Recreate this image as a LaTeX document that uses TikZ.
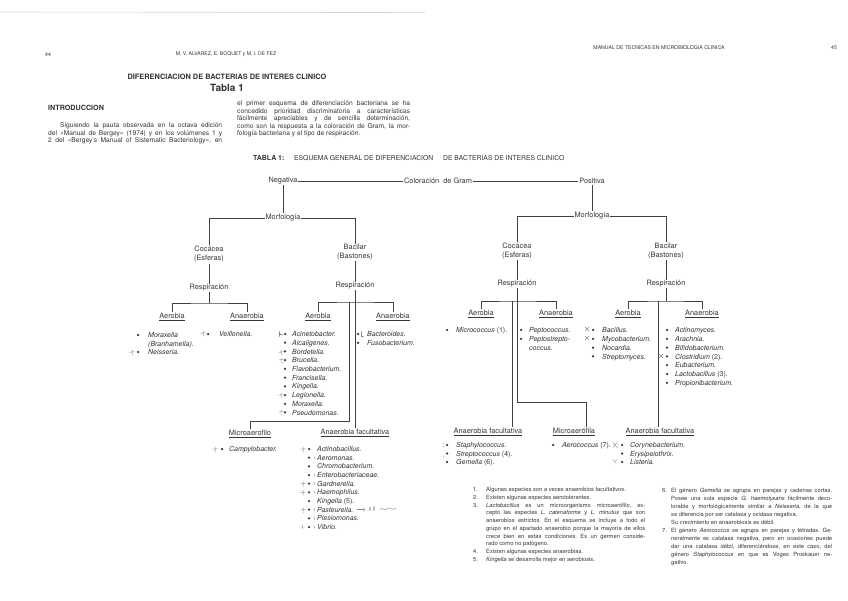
\documentclass[tikz,border=0pt]{standalone}
\usepackage{fontspec}
\setmainfont{TeX Gyre Heros}
\usetikzlibrary{calc}
\definecolor{ink}{HTML}{353535}
\definecolor{lin}{HTML}{404040}
\definecolor{pen}{HTML}{8C8C8C}
\definecolor{scan}{HTML}{D2D2D2}
\frenchspacing
\newcommand\fs[2]{\fontsize{#1}{#2}\selectfont}
\tikzset{
  every node/.style={text=ink, inner sep=0.8bp},
  lab/.style={font=\fs{7.4}{9}},
  itm/.style={font=\fs{7}{8}\itshape, anchor=mid west, inner sep=0},
  note/.style={font=\fs{5.8}{7}, anchor=mid west, inner sep=0},
  para/.style={font=\fs{6.7}{8}, anchor=mid west, inner sep=0},
  conn/.style={draw=lin, line width=0.7bp},
  pencil/.style={draw=pen, line width=0.45bp, line cap=round},
}
\newcommand\blist[6]{%
  \foreach \itx [count=\i from 0] in {#6}{%
    \fill[ink] (#2,{#4+\i*#5}) circle (1.25bp);
    \node[itm] (#1\i) at (#3,{#4+\i*#5}) {\itx};
  }}
\newcommand\jline[6]{\node[#1] (#2) at (#3,#4) {\makebox[#5][s]{#6}};}
\newcommand\pplus[2]{\draw[pencil,shift={(#1,#2)}] (-2.5,0.3) -- (2.3,-0.3) (0,-2.5) -- (0.3,2.8);}
\newcommand\px[2]{\draw[pencil,shift={(#1,#2)}] (-2,-2) -- (2,2) (2,-2) -- (-2,2);}
\newcommand\ptick[2]{\draw[pencil,shift={(#1,#2)}] (0,-1.5) -- (0.6,1.2);}
\begin{document}
\begin{tikzpicture}[x=1bp,y=-1bp]
\fill[white] (0,0) rectangle (848,601);
\useasboundingbox (0,0) rectangle (848,601);
\draw[scan, line width=0.6bp] (0,12) -- (425,12.6);

% headers
\node[font=\fs{5.2}{6}] (p44) at (48,55) {44};
\node[font=\fs{5.1}{6}] (auth) at (226,54) {M. V. ALVAREZ, E. BOQUET y M. I. DE FEZ};
\node[font=\fs{5.2}{6}] (man) at (659,48) {MANUAL DE TECNICAS EN MICROBIOLOGIA CLINICA};
\node[font=\fs{5.2}{6}] (p45) at (834,48) {45};

% title
\node[font=\fs{7.4}{9}\bfseries] (tit) at (227,77) {DIFERENCIACION DE BACTERIAS DE INTERES CLINICO};
\node[font=\fs{10}{12}\bfseries] (tab) at (227,87.5) {Tabla 1};
\node[font=\fs{7.2}{9}\bfseries, anchor=mid west, inner sep=0] (intro) at (48,108) {INTRODUCCION};

% intro paragraphs
\jline{para}{pa1}{60}{125}{162bp}{Siguiendo la pauta observada en la octava edición}
\jline{para}{pa2}{48}{132.5}{174bp}{del «Manual de Bergey» (1974) y en los volúmenes 1 y}
\jline{para}{pa3}{48}{140}{174bp}{2 del «Bergey's Manual of Sistematic Bacteriology», en}
\jline{para}{pb1}{237}{103}{173bp}{el primer esquema de diferenciación bacteriana se ha}
\jline{para}{pb2}{237}{110.5}{173bp}{concedido prioridad discriminatoria a características}
\jline{para}{pb3}{237}{118}{173bp}{fácilmente apreciables y de sencilla determinación,}
\jline{para}{pb4}{237}{125.5}{173bp}{como son la respuesta a la coloración de Gram, la mor-}
\node[para] (pb5) at (237,133) {fología bacteriana y el tipo de respiración.};

% table heading
\node[font=\fs{7}{8}\bfseries, anchor=mid west, inner sep=0] (tb1) at (253,158) {TABLA 1:};
\node[font=\fs{6.8}{8}, anchor=mid west, inner sep=0] (tb2) at (294,158) {ESQUEMA GENERAL DE DIFERENCIACION};
\node[font=\fs{6.8}{8}, anchor=mid west, inner sep=0] (tb3) at (443,158) {DE BACTERIAS DE INTERES CLINICO};

% top level
\node[lab] (neg) at (283,181) {Negativa};
\node[lab] (gram) at (438,181) {Coloración\hspace{4bp}de Gram};
\node[lab] (pos) at (592,181) {Positiva};
\draw[conn] (neg) -- (gram);
\draw[conn] (gram) -- (pos);

% left (negativa) tree
\node[lab] (morfL) at (283,218) {Morfología};
\node[lab, align=center] (cocL) at (209,254.5) {Cocácea\\(Esferas)};
\node[lab, align=center] (bacL) at (355,252.5) {Bacilar\\(Bastones)};
\node[lab] (respL) at (209,288) {Respiración};
\node[lab] (respBL) at (355,286) {Respiración};
\draw[conn] (neg) -- (morfL);
\draw[conn] (cocL) |- (morfL);
\draw[conn] (morfL) -| (bacL);
\draw[conn] (cocL) -- (respL);
\draw[conn] (bacL) -- (respBL);

\node[lab] (aerL1) at (172,317) {\underline{Aerobia}};
\node[lab] (anaL1) at (247,317) {\underline{Anaerobia}};
\coordinate (jL1) at (209,303);
\draw[conn] (respL) -- (jL1);
\draw[conn] (aerL1) |- (jL1) -| (anaL1);

\node[lab] (aerL2) at (318,317) {\underline{Aerobia}};
\node[lab] (anaL2) at (393,317) {\underline{Anaerobia}};
\node[lab] (microL) at (250,434) {\underline{Microaerofilo}};
\node[lab] (anafacL) at (355,433) {\underline{Anaerobia facultativa}};
\coordinate (jL2) at (355,302);
\draw[conn] (respBL) -- (anafacL);
\draw[conn] (aerL2) |- (jL2) -| (anaL2);
\coordinate (kL) at (349,302);
\coordinate (kL2) at (349,421);
\draw[conn] (kL) -- (kL2) -| (microL);

% right (positiva) tree
\node[lab] (morfR) at (592,216) {Morfología};
\node[lab, align=center] (cocR) at (517,251) {Cocácea\\(Esferas)};
\node[lab, align=center] (bacR) at (666,251) {Bacilar\\(Bastones)};
\node[lab] (respCR) at (517,284) {Respiración};
\node[lab] (respBR) at (666,284) {Respiración};
\draw[conn] (pos) -- (morfR);
\draw[conn] (cocR) |- (morfR);
\draw[conn] (morfR) -| (bacR);
\draw[conn] (cocR) -- (respCR);
\draw[conn] (bacR) -- (respBR);

\node[lab] (aerR1) at (481,314) {\underline{Aerobia}};
\node[lab] (anaR1) at (556,314) {\underline{Anaerobia}};
\node[lab] (aerR2) at (628,314) {\underline{Aerobia}};
\node[lab] (anaR2) at (702,314) {\underline{Anaerobia}};
\node[lab] (anafacR1) at (488,432) {\underline{Anaerobia facultativa}};
\node[lab] (microR) at (574,432) {\underline{Microaerófila}};
\node[lab] (anafacR2) at (660,432) {\underline{Anaerobia facultativa}};

\coordinate (jR1) at (517,301);
\draw[conn] (respCR) -- (jR1);
\draw[conn] (aerR1) |- (jR1) -| (anaR1);
\coordinate (m1) at (512,301);
\draw[conn] (m1) -- (m1 |- anafacR1.north);
\coordinate (m2) at (517,402);
\coordinate (m3) at (586,402);
\draw[conn] (jR1) -- (m2) -- (m3) -- (m3 |- microR.north);

\coordinate (jR2) at (666,301);
\draw[conn] (respBR) -- (jR2);
\draw[conn] (aerR2) |- (jR2) -| (anaR2);
\coordinate (n1) at (658,301);
\draw[conn] (n1) -- (n1 |- anafacR2.north);

% lists, left
\blist{lca}{138}{148}{335}{17}{Moraxella,Neisseria.}
\node[itm] (lcab) at (148,343.5) {(Branhamella).};
\blist{lcn}{208}{219}{334}{8.7}{Veillonella.}
\blist{lba}{285}{292}{334}{8.72}{Acinetobacter.,Alcaligenes.,Bordetella.,Brucella.,Flavobacterium.,Francisella.,Kingella.,Legionella.,Moraxella.,Pseudomonas.}
\blist{lbn}{358}{367}{334}{8.8}{Bacteroides.,Fusobacterium.}
\blist{lmi}{222}{229}{449}{8.7}{Campylobacter.}
\blist{lfa}{309}{317}{449}{8.67}{Actinobacillus.,Aeromonas.,Chromobacterium.,Enterobacteriaceae.,Gardnerella.,Haemophilus.,{Kingella \upshape(5).},Pasteurella.,Plesiomonas.,Vibrio.}

% lists, right
\blist{rca}{447}{456}{330}{8.8}{{Micrococcus \upshape(1).}}
\blist{rcn}{521}{529}{330}{8.8}{Peptococcus.,Peptostrepto-}
\node[itm] (rcnb) at (529,347.6) {coccus.};
\blist{rba}{593}{602}{330}{8.8}{Bacillus.,Mycobacterium.,Nocardia.,Streptomyces.}
\blist{rbn}{667}{675}{330}{8.8}{Actinomyces.,Arachnia.,Bifidobacterium.,{Clostridium \upshape(2).},Eubacterium.,{Lactobacillus \upshape(3).},Propionibacterium.}
\blist{rfa}{447}{456}{445}{8.5}{Staphylococcus.,{Streptococcus \upshape(4).},{Gemella \upshape(6).}}
\blist{rmi}{553}{562}{445}{8.5}{{Aerococcus \upshape(7).}}
\blist{rfb}{622}{630}{445}{8.5}{Corynebacterium.,Erysipelothrix.,Listeria.}

% pencil marks
\pplus{132}{352}
\pplus{203}{333}
\draw[pencil] (279,331.5) -- (279,336.5) (279,334) -- (282.5,334);
\pplus{281}{352}
\draw[pencil] (281,357) -- (281,362.5) -- (284,362.5) (279,360) -- (283,359.5);
\pplus{281}{395}
\draw[pencil] (281,409.5) -- (281,415) -- (284,415) (279,412) -- (283,411.5);
\draw[pencil] (361,331.5) -- (361,336) -- (363.5,336);
\pplus{215}{449}
\pplus{303}{449}
\pplus{303}{483.7}
\pplus{303}{492.3}
\pplus{303}{509.7}
\draw[pencil] (300,527) -- (305,527) (303,525) -- (302,529);
\ptick{314}{457.7}
\ptick{314}{475}
\ptick{314}{483.7}
\ptick{314}{492.3}
\ptick{314}{509.7}
\ptick{314}{518.4}
\ptick{314}{527}
\draw[pencil,->] (357,509.7) -- (365,509.7);
\draw[pencil] (369,510.7) -- (370,506.7) -- (371,510.7) (373,510.7) -- (374,506.2) -- (375,510.7)
  (380,509.7) .. controls (382,505.7) and (385,512.7) .. (387,508.7) .. controls (389,505.7) and (392,511.7) .. (396,508.2);
\px{587}{329}
\px{587}{338}
\px{661}{356}
\draw[pencil] (443,443.5) -- (443,444) (443,446.5) -- (443,447);
\draw[pencil] (443,456) -- (443,456.5);
\draw[pencil] (613,442.5) -- (617,447.5) (617,442.5) -- (613,447.5) (618,443) -- (618,448);
\draw[pencil] (613,459.5) -- (615,462) -- (617,459.5) (615,462) -- (615,464.5);

% notes, left column
\node[note] (nn1) at (473,489) {1.};
\node[note] (nt1) at (486,489) {Algunas especies son a veces anaerobios facultativos.};
\node[note] (nn2) at (473,497) {2.};
\node[note] (nt2) at (486,497) {Existen algunas especies aerotolerantes.};
\node[note] (nn3) at (473,504.5) {3.};
\jline{note}{nt3a}{486}{504.5}{159bp}{\textit{Lactobacillus} es un microorganismo microaerófilo, ex-}
\jline{note}{nt3b}{486}{512.2}{159bp}{cepto las especies \textit{L. catenaforme} y \textit{L. minutus} que son}
\jline{note}{nt3c}{486}{520}{159bp}{anaerobios estrictos. En el esquema se incluye a todo el}
\jline{note}{nt3d}{486}{527.7}{159bp}{grupo en el apartado anaerobio porque la mayoría de ellos}
\jline{note}{nt3e}{486}{535.4}{159bp}{crece bien en estas condiciones. Es un germen conside-}
\node[note] (nt3f) at (486,543) {rado como no patógeno.};
\node[note] (nn4) at (473,551) {4.};
\node[note] (nt4) at (486,551) {Existen algunas especies anaerobias.};
\node[note] (nn5) at (473,559) {5.};
\node[note] (nt5) at (486,559) {\textit{Kingella} se desarrolla mejor en aerobiosis.};

% notes, right column
\node[note] (nn6) at (662,490) {6.};
\jline{note}{nt6a}{671}{490}{161bp}{El género \textit{Gemella} se agrupa en parejas y cadenas cortas.}
\jline{note}{nt6b}{671}{498}{161bp}{Posee una sola especie \textit{G. haemolysans} fácilmente deco-}
\jline{note}{nt6c}{671}{506}{161bp}{lorable y morfológicamente similar a \textit{Neisseria}, de la que}
\node[note] (nt6d) at (671,514) {se diferencia por ser catalasa y oxidasa negativa.};
\node[note] (nt6e) at (671,522) {Su crecimiento en anaerobiosis es débil.};
\node[note] (nn7) at (662,530) {7.};
\jline{note}{nt7a}{671}{530}{161bp}{El género \textit{Aerococcus} se agrupa en parejas y tétradas. Ge-}
\jline{note}{nt7b}{671}{538}{161bp}{neralmente es catalasa negativa, pero en ocasiones puede}
\jline{note}{nt7c}{671}{546}{161bp}{dar una catalasa débil, diferenciándose, en este caso, del}
\jline{note}{nt7d}{671}{554}{161bp}{género \textit{Staphylococcus} en que es Voges Proskauer ne-}
\node[note] (nt7e) at (671,561.5) {gativo.};
\end{tikzpicture}
\end{document}
